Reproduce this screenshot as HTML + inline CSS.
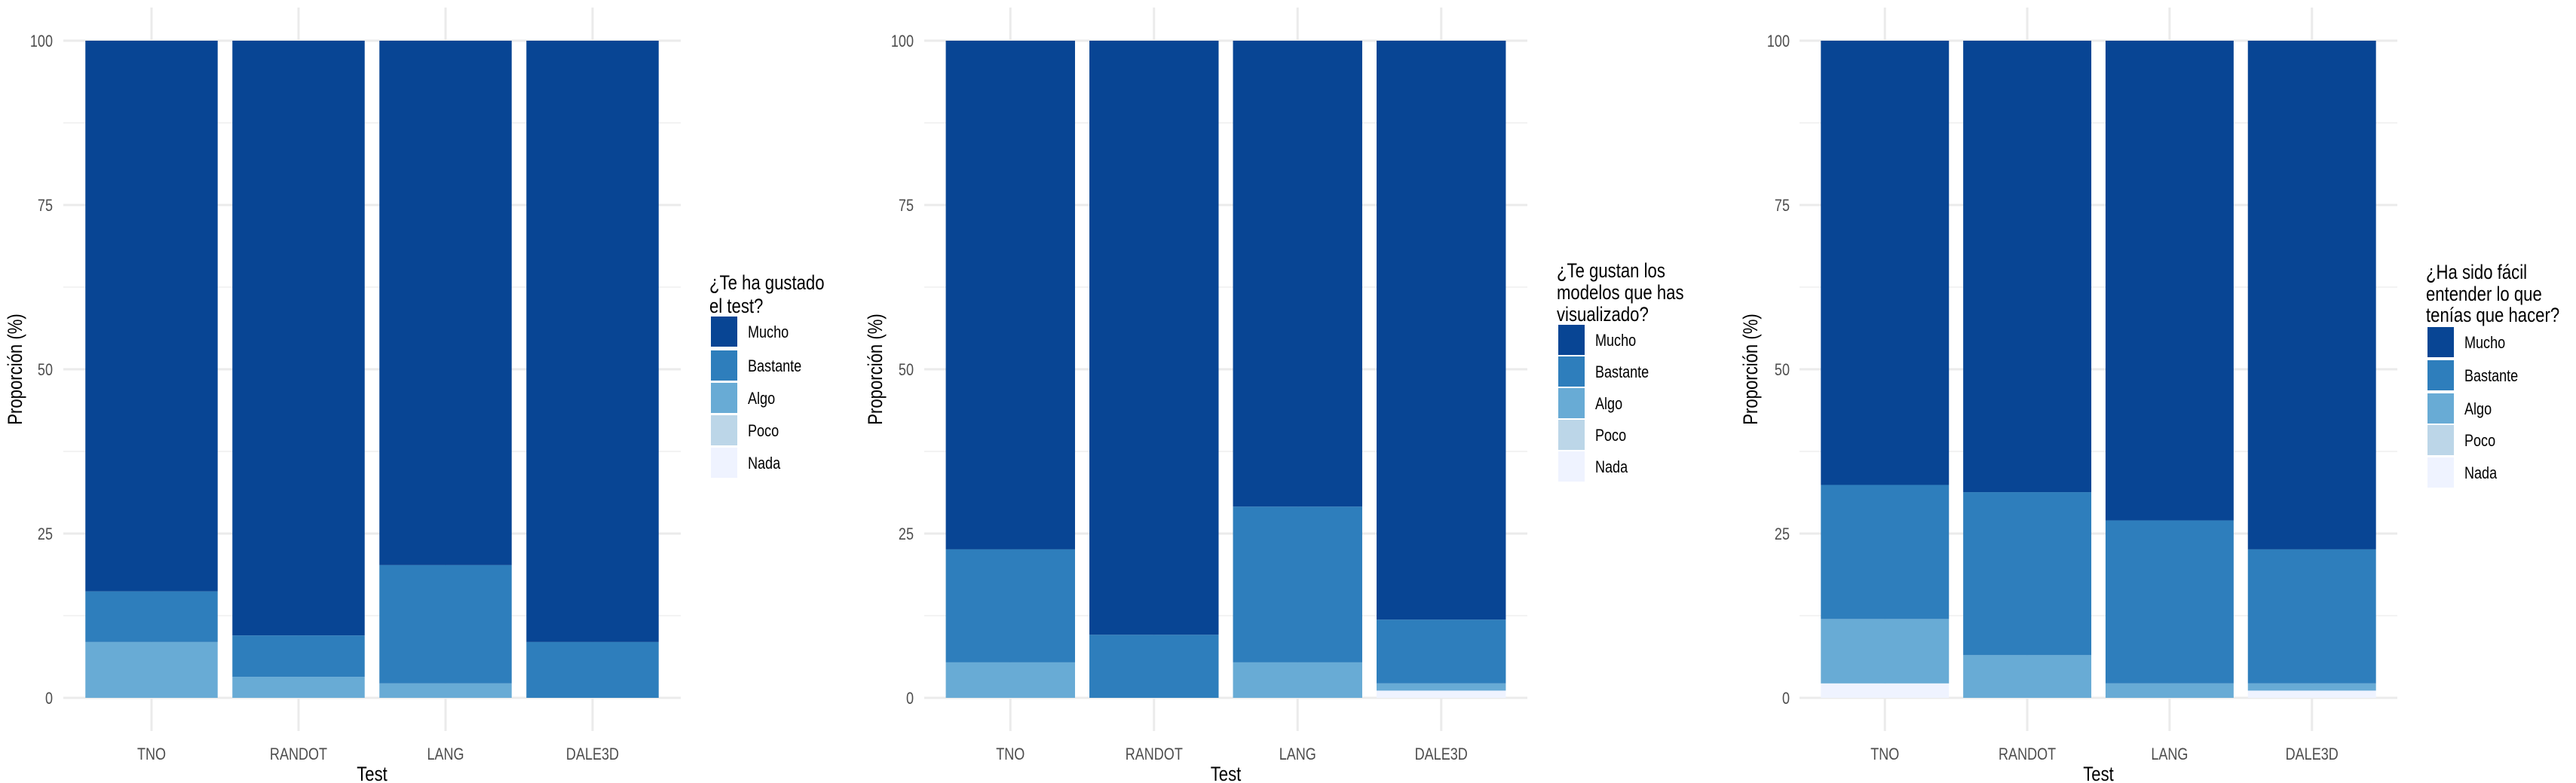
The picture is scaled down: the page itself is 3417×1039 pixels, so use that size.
<!DOCTYPE html>
<html><head><meta charset="utf-8"><style>
html,body{margin:0;padding:0;background:#fff;}
svg{display:block;font-family:"Liberation Sans",sans-serif;}
</style></head><body>
<svg id="chart" width="3417" height="1039" viewBox="0 0 3417 1039"></svg>
<script>
const categories = ["TNO","RANDOT","LANG","DALE3D"];
const levels = ["Nada","Poco","Algo","Bastante","Mucho"];
const legendOrder = ["Mucho","Bastante","Algo","Poco","Nada"];
const yTicks = [0,25,50,75,100];
// Panel 1: ¿Te ha gustado el test?
const p1Nada = [0,0,0,0];
const p1Poco = [0,0,0,0];
const p1Algo = [8.5,3.2,2.2,0];
const p1Bastante = [7.7,6.3,18.0,8.5];
// Panel 2: ¿Te gustan los modelos?
const p2Nada = [0,0,0,1.1];
const p2Poco = [0,0,0,0];
const p2Algo = [5.4,0,5.4,1.1];
const p2Bastante = [17.2,9.6,23.7,9.7];
// Panel 3: ¿Ha sido fácil entender?
const p3Nada = [2.2,0,0,1.1];
const p3Poco = [0,0,0,0];
const p3Algo = [9.8,6.5,2.2,1.1];
const p3Bastante = [20.4,24.8,24.8,20.4];

const colors = {Mucho:"#084594",Bastante:"#2e7ebc",Algo:"#68abd5",Poco:"#bcd6e8",Nada:"#eff3ff"};
const NS="http://www.w3.org/2000/svg";
const svg=document.getElementById('chart');
const SX=0.82;
function mk(tag,attrs,parent){const e=document.createElementNS(NS,tag);for(const k in attrs)e.setAttribute(k,attrs[k]);(parent||svg).appendChild(e);return e;}
function txt(x,yy,s,attrs,parent,rot){
  const a=Object.assign({x:0,y:0},attrs);
  a.transform = rot ? `translate(${x},${yy}) rotate(-90) scale(${SX},1)` : `translate(${x},${yy}) scale(${SX},1)`;
  const t=mk('text',a,parent);t.textContent=s;return t;
}

const panels=[
 {key:"p1",L:84,R:903,tickR:70,yTitleX:20,legX:943,titleLines:["¿Te ha gustado","el test?"],titleY:[375,406],keyY:[440,485,528,571,614],
  data:{Nada:p1Nada,Poco:p1Poco,Algo:p1Algo,Bastante:p1Bastante}},
 {key:"p2",L:1226,R:2026,tickR:1212,yTitleX:1161,legX:2067,titleLines:["¿Te gustan los","modelos que has","visualizado?"],titleY:[359,388,417],keyY:[451,493,535,577,619],
  data:{Nada:p2Nada,Poco:p2Poco,Algo:p2Algo,Bastante:p2Bastante}},
 {key:"p3",L:2387,R:3180,tickR:2374,yTitleX:2322,legX:3220,titleLines:["¿Ha sido fácil","entender lo que","tenías que hacer?"],titleY:[361,390,418],keyY:[454,498,542,584,627],
  data:{Nada:p3Nada,Poco:p3Poco,Algo:p3Algo,Bastante:p3Bastante}}
];
const Y0=926,Y100=54;
function y(v){return Y0-(v/100)*(Y0-Y100);}

panels.forEach(p=>{
  const g=mk('g',{});
  
  
  const unit=(p.R-p.L)/4.2;
  const xc=i=>p.L+unit*(i+0.6);
  [12.5,37.5,62.5,87.5].forEach(v=>{const l=mk('line',{x1:p.L,x2:p.R,y1:y(v),y2:y(v),stroke:"#f3f3f3","stroke-width":2},g);
    });
  yTicks.forEach(v=>{const l=mk('line',{x1:p.L,x2:p.R,y1:y(v),y2:y(v),stroke:"#ebebeb","stroke-width":3},g);
    
    const t=txt(p.tickR,y(v)+8,String(v),{"text-anchor":"end","font-size":22,fill:"#4d4d4d"},g);
    });
  categories.forEach((c,i)=>{const l=mk('line',{x1:xc(i),x2:xc(i),y1:10,y2:970,stroke:"#ebebeb","stroke-width":3},g);
    });
  categories.forEach((c,i)=>{
    let cum=0;const w=unit*0.9;
    levels.forEach(lv=>{
      let v = lv==="Mucho" ? 100-cum : p.data[lv][i];
      if(v<=0) return;
      const r=mk('rect',{x:xc(i)-w/2,y:y(cum+v),width:w,height:y(cum)-y(cum+v),fill:colors[lv]},g);
      
      
      cum+=v;
    });
    const t=txt(xc(i),1008,c,{"text-anchor":"middle","font-size":22,fill:"#4d4d4d"},g);
    
  });
  const xt=txt((p.L+p.R)/2,1036,"Test",{"text-anchor":"middle","font-size":27,fill:"#000"},g);
  
  const yt=txt(p.yTitleX+9,y(50),"Proporción (%)",{"text-anchor":"middle","font-size":27,fill:"#000"},g,true);
  
  const lg=mk('g',{},g);
  
  p.titleLines.forEach((s,k)=>{const t=txt(p.legX-2,p.titleY[k]+9,s,{"font-size":27,fill:"#000"},lg);
    });
  legendOrder.forEach((lv,k)=>{
    const r=mk('rect',{x:p.legX,y:p.keyY[k]-20,width:35,height:40,fill:colors[lv]},lg);
    
    const t=txt(p.legX+49,p.keyY[k]+8,lv,{"font-size":22,fill:"#000"},lg);
    
  });
});
</script>
</body></html>
